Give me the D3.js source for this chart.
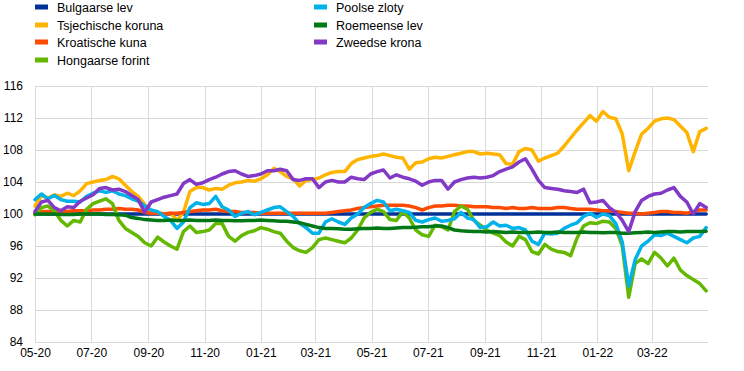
<!DOCTYPE html>
<html>
<head>
<meta charset="utf-8">
<script src="https://cdn.jsdelivr.net/npm/d3@7"></script>
<style>
  html, body { margin: 0; padding: 0; background: #fff; }
  svg { display: block; font-family: "Liberation Sans", Arial, sans-serif; }
</style>
</head>
<body>
<svg id="chart" width="744" height="371"></svg>
<script>
// ---- Data (index, weekly observations starting 2020-05-01) ----
const startDate = "2020-05-01";
const stepDays = 7;

const seriesNames = ["Bulgaarse lev", "Tsjechische koruna", "Kroatische kuna", "Hongaarse forint",
                     "Poolse zloty", "Roemeense lev", "Zweedse krona"];
const seriesColors = ["#003299", "#FFB400", "#FF4B00", "#65B800", "#00B1EA", "#007816", "#8139C6"];

const bgn = [100,100,100,100,100,100,100,100,100,100,100,100,100,100,100,100,100,100,100,100,
  100,100,100,100,100,100,100,100,100,100,100,100,100,100,100,100,100,100,100,100,
  100,100,100,100,100,100,100,100,100,100,100,100,100,100,100,100,100,100,100,100,
  100,100,100,100,100,100,100,100,100,100,100,100,100,100,100,100,100,100,100,100,
  100,100,100,100,100,100,100,100,100,100,100,100,100,100,100,100,100,100,100,100,
  100,100,100,100,100];

const czk = [101.0,102.3,102.0,102.4,102.2,102.6,102.3,102.9,103.8,104.0,
  104.2,104.3,104.7,104.4,103.6,102.8,102.2,101.2,100.3,100.2,
  100.0,100.1,99.2,100.2,102.8,103.3,103.3,103.0,103.2,103.1,
  103.6,103.9,104.0,104.2,104.1,104.4,104.9,105.7,105.3,104.7,
  104.4,103.5,104.2,104.3,104.5,104.9,105.2,105.3,105.3,106.3,
  106.8,107.0,107.2,107.3,107.5,107.3,107.1,107.0,105.6,106.4,
  106.5,106.9,107.1,107.0,107.2,107.4,107.6,107.8,107.8,107.5,
  107.6,107.5,107.4,106.3,106.2,107.8,108.2,108.0,106.6,107.0,
  107.3,107.6,108.5,109.5,110.5,111.4,112.3,111.6,112.8,112.1,
  111.9,110.0,105.4,107.8,110.0,110.7,111.6,111.9,112.0,111.8,
  111.0,110.2,107.8,110.3,110.7];

const hrk = [100.1,100.3,100.3,100.3,100.4,100.3,100.4,100.4,100.4,100.5,
  100.5,100.6,100.6,100.7,100.6,100.6,100.5,100.2,100.1,100.1,
  100.0,100.1,100.1,100.2,100.3,100.4,100.5,100.5,100.6,100.4,
  100.3,100.3,100.2,100.2,100.2,100.1,100.1,100.1,100.1,100.1,
  100.1,100.1,100.1,100.1,100.1,100.1,100.2,100.3,100.4,100.5,
  100.7,100.8,100.9,101.0,101.1,101.1,101.1,101.1,101.0,100.8,
  100.5,100.8,101.0,101.0,101.1,101.1,101.0,101.0,100.9,100.9,
  100.9,100.8,100.8,100.7,100.8,100.7,100.7,100.8,100.7,100.7,
  100.7,100.8,100.8,100.7,100.6,100.6,100.6,100.5,100.4,100.4,
  100.3,100.2,100.1,100.1,100.0,100.1,100.2,100.3,100.3,100.2,
  100.2,100.1,100.3,100.5,100.5];

const huf = [99.9,100.8,101.0,100.4,99.2,98.5,99.2,99.0,100.6,101.3,
  101.6,101.9,101.3,99.2,98.2,97.7,97.2,96.4,96.0,97.1,
  96.5,96.0,95.6,97.8,98.5,97.7,97.8,98.0,98.8,98.8,
  97.2,96.6,97.3,97.7,97.9,98.3,98.1,97.8,97.6,96.6,
  95.8,95.4,95.2,95.8,96.8,97.0,96.8,96.6,96.4,97.0,
  98.0,99.5,100.2,100.6,100.3,99.3,99.2,100.3,99.5,98.0,
  97.4,97.2,98.6,98.4,98.0,100.3,101.0,100.6,99.2,98.6,
  98.0,97.6,97.3,96.5,96.0,97.2,96.8,95.3,95.0,96.2,
  95.6,95.3,95.2,94.8,97.0,98.5,98.9,98.8,99.1,99.0,
  98.2,96.0,89.6,93.8,94.4,93.8,95.2,94.5,93.5,94.5,
  93.0,92.3,91.8,91.3,90.4];

const pln = [101.8,102.5,101.9,102.3,101.8,101.6,101.6,101.5,102.2,102.6,
  102.9,102.7,102.9,102.5,102.3,101.9,101.6,101.0,100.5,100.3,
  99.7,99.2,98.2,99.0,100.8,101.4,101.2,101.3,102.2,100.9,
  100.5,99.7,100.1,100.3,99.9,100.2,100.5,100.8,100.9,100.3,
  99.7,98.8,98.3,97.6,97.6,99.0,99.4,99.0,98.7,99.5,
  100.0,100.8,101.3,101.7,101.5,100.4,100.6,100.4,100.2,99.2,
  99.0,99.3,99.5,99.1,99.2,99.4,100.2,99.5,99.3,98.3,
  98.4,99.0,98.5,98.6,98.2,98.3,98.0,96.6,96.2,97.6,
  97.5,97.6,98.2,98.6,98.9,99.7,100.1,99.6,100.0,99.8,
  98.8,96.5,91.0,94.3,96.0,96.6,97.4,97.3,97.6,97.2,
  96.8,96.4,97.0,97.2,98.3];

const ron = [100.0,100.0,100.0,100.0,99.95,99.95,99.95,100.0,100.0,100.0,
  100.0,99.95,99.95,99.9,99.85,99.55,99.45,99.3,99.25,99.2,
  99.2,99.25,99.2,99.2,99.25,99.2,99.2,99.2,99.25,99.2,
  99.2,99.15,99.15,99.2,99.2,99.25,99.2,99.15,99.1,99.1,
  99.0,98.9,98.7,98.5,98.3,98.2,98.2,98.15,98.1,98.1,
  98.15,98.2,98.2,98.25,98.2,98.2,98.25,98.3,98.3,98.35,
  98.4,98.4,98.5,98.5,98.3,98.0,97.9,97.85,97.8,97.8,
  97.75,97.8,97.75,97.7,97.75,97.7,97.7,97.7,97.75,97.7,
  97.7,97.75,97.7,97.7,97.7,97.75,97.7,97.7,97.65,97.7,
  97.7,97.6,97.6,97.65,97.7,97.75,97.7,97.75,97.8,97.8,
  97.75,97.8,97.8,97.8,97.85];

const sek = [100.3,101.5,101.7,100.8,100.4,100.9,100.8,101.6,102.0,102.4,
  103.2,103.3,103.0,103.1,102.8,102.3,101.8,100.2,101.5,101.8,
  102.1,102.3,102.5,103.8,104.3,103.7,103.9,104.3,104.6,105.0,
  105.3,105.4,105.0,104.7,104.8,105.0,105.4,105.4,105.6,105.4,
  104.3,104.2,104.4,104.4,103.3,104.0,104.2,104.0,104.0,104.6,
  104.4,104.3,105.0,105.3,105.5,104.5,104.9,104.6,104.4,104.1,
  103.6,104.0,104.2,104.2,103.1,104.0,104.3,104.5,104.6,104.5,
  104.6,104.8,105.3,105.6,105.9,106.5,106.9,105.6,104.2,103.3,
  103.2,103.1,102.9,102.8,102.7,103.1,101.4,101.5,101.7,100.8,
  100.2,99.2,97.8,100.3,101.7,102.2,102.5,102.6,103.0,103.3,
  102.2,101.5,100.0,101.3,100.8];

const seriesValues = [bgn, czk, hrk, huf, pln, ron, sek];

const yTicks = [84, 88, 92, 96, 100, 104, 108, 112, 116];
const xTickLabels = ["05-20","07-20","09-20","11-20","01-21","03-21","05-21","07-21","09-21","11-21","01-22","03-22"];
const xDomain = ["2020-05-01", "2022-05-01"];

// ---- Layout ----
const svg = d3.select("#chart");
const parse = d3.timeParse("%Y-%m-%d");
const plot = { left: 35, right: 708, top: 86, bottom: 342 };

const x = d3.scaleTime().domain(xDomain.map(parse)).range([plot.left, plot.right]);
const y = d3.scaleLinear().domain([84, 116]).range([plot.bottom, plot.top]);

const start = parse(startDate);
const dates = bgn.map((_, i) => d3.timeDay.offset(start, i * stepDays));
const tickDates = xTickLabels.map(s => d3.timeParse("%m-%y")(s));

const gridColor = "#d9d9d9";

// horizontal grid
svg.append("g").selectAll("line").data(yTicks).join("line")
  .attr("x1", plot.left).attr("x2", plot.right)
  .attr("y1", d => Math.round(y(d)) + 0.5).attr("y2", d => Math.round(y(d)) + 0.5)
  .attr("stroke", gridColor).attr("stroke-width", 1);

// vertical grid (incl. left axis line)
svg.append("g").selectAll("line").data(tickDates).join("line")
  .attr("x1", d => Math.round(x(d)) + 0.5).attr("x2", d => Math.round(x(d)) + 0.5)
  .attr("y1", plot.top).attr("y2", plot.bottom)
  .attr("stroke", gridColor).attr("stroke-width", 1);

// y axis labels
const yAxis = d3.axisLeft(y).tickValues(yTicks).tickSize(0).tickPadding(0).tickFormat(d3.format("d"));
const gy = svg.append("g").attr("transform", `translate(23,0)`).call(yAxis);
gy.select(".domain").remove();
gy.selectAll("text").attr("font-size", "12px").attr("fill", "#000")
  .attr("font-family", "'Liberation Sans', Arial, sans-serif");

// x axis labels
const xAxis = d3.axisBottom(x).tickValues(tickDates).tickSize(0).tickPadding(0)
  .tickFormat((d, i) => xTickLabels[i]);
const gx = svg.append("g").attr("transform", `translate(0,348)`).call(xAxis);
gx.select(".domain").remove();
gx.selectAll("text").attr("font-size", "12px").attr("fill", "#000")
  .attr("font-family", "'Liberation Sans', Arial, sans-serif");

// lines
const line = d3.line().x((d, i) => x(dates[i])).y(d => y(d));
svg.append("g").selectAll("path").data(seriesValues).join("path")
  .attr("d", d => line(d))
  .attr("fill", "none")
  .attr("stroke", (d, i) => seriesColors[i])
  .attr("stroke-width", 3.5)
  .attr("stroke-linejoin", "round")
  .attr("stroke-linecap", "round");

// legend
const legendPos = [
  [35, 7], [35, 25], [35, 42], [35, 60],
  [314, 7], [314, 25], [314, 42]
];
const lg = svg.append("g");
seriesNames.forEach((name, i) => {
  const [lx, ly] = legendPos[i];
  lg.append("rect").attr("x", lx).attr("y", ly - 2.5).attr("width", 13).attr("height", 5)
    .attr("fill", seriesColors[i]);
  lg.append("text").attr("x", lx + 22).attr("y", ly + 4.5)
    .attr("font-size", "12.5px").attr("fill", "#000").text(name);
});
</script>
</body>
</html>
